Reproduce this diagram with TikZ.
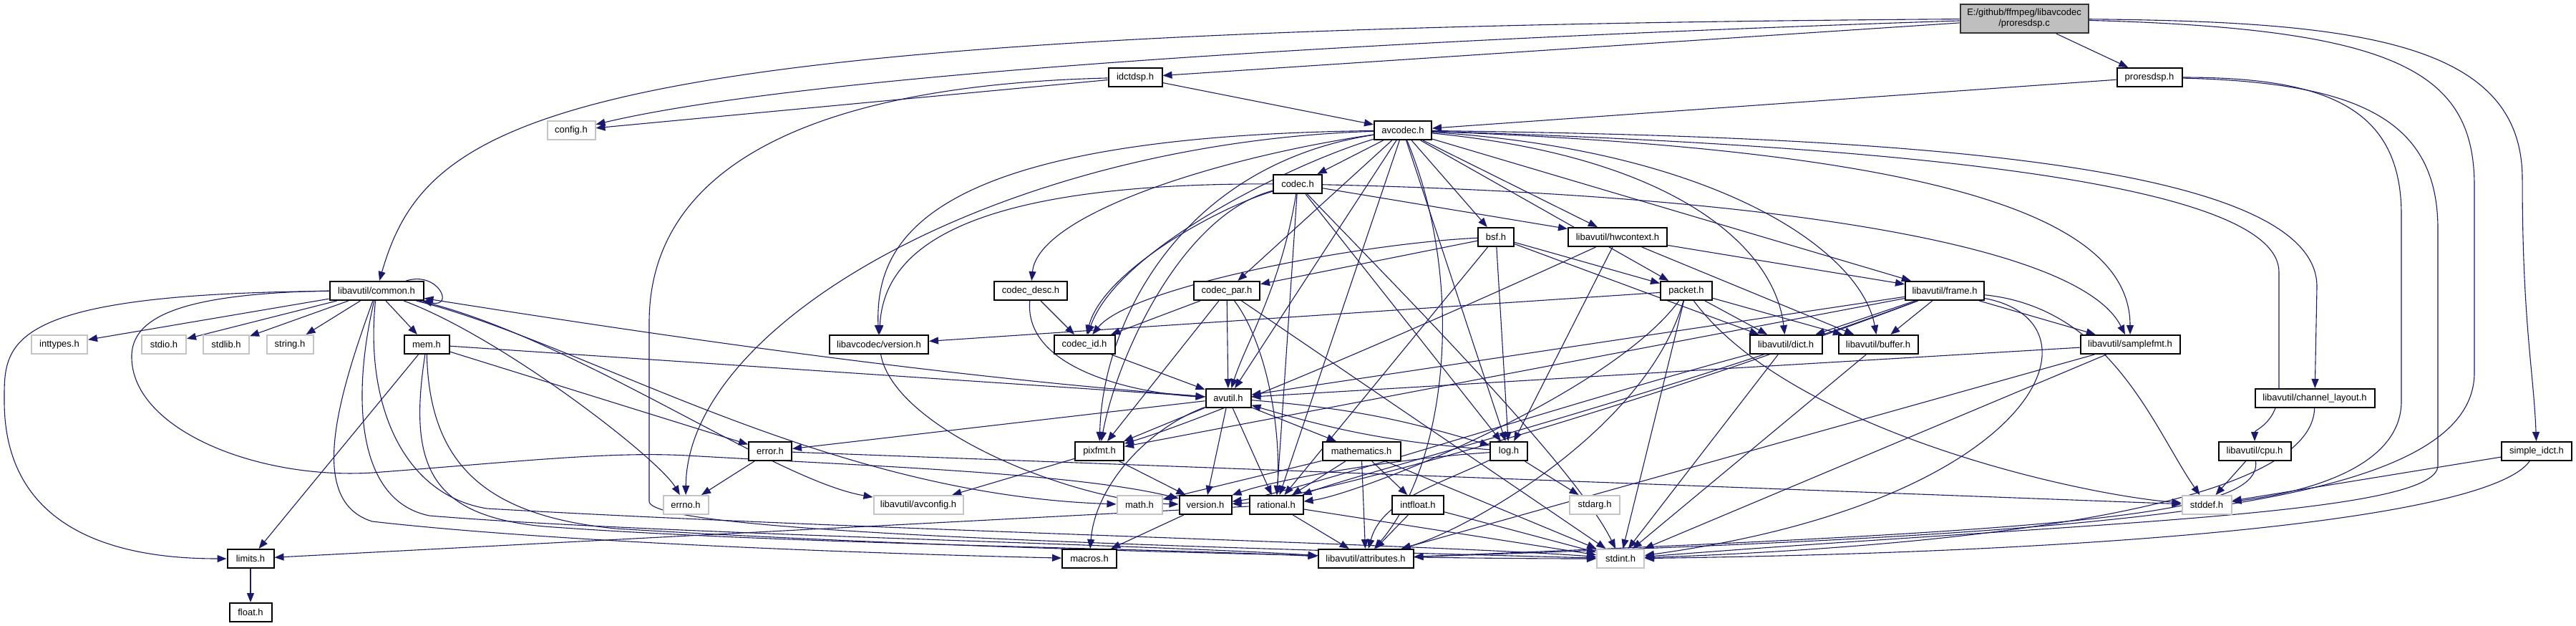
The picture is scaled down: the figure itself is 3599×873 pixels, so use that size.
\documentclass[tikz,border=0pt]{standalone}
\usepackage{fontspec}
\setmainfont{Liberation Sans}
\usetikzlibrary{arrows.meta}
\definecolor{edgec}{HTML}{191970}
\definecolor{sysb}{HTML}{C4C4C4}
\definecolor{mainf}{HTML}{BFBFBF}
\pgfdeclarelayer{edgelayer}
\pgfsetlayers{edgelayer,main}
\begin{document}
\begin{tikzpicture}[x=1pt,y=-1pt,
  nd/.style={draw=black, line width=2pt, fill=white, minimum height=26pt, inner sep=0pt, font=\fontsize{13}{15}\selectfont},
  gnd/.style={nd, draw=sysb},
  e/.style={draw=edgec, line width=1.1pt, -{Triangle[length=13pt,width=10pt]}}]
\useasboundingbox (0,0) rectangle (3599,873);
% nodes
\node[nd, fill=mainf, draw=black!80, minimum width=179pt, minimum height=40pt, align=center] (main) at (2828,26) {E:/github/ffmpeg/libavcodec\\/proresdsp.c};
\node[nd, minimum width=75pt] (idctdsp) at (1586,108) {idctdsp.h};
\node[nd, minimum width=91pt] (proresh) at (3003,108) {proresdsp.h};
\node[gnd, minimum width=67pt] (config) at (798,182) {config.h};
\node[nd, minimum width=80pt] (avcodec) at (1960,182) {avcodec.h};
\node[nd, minimum width=68pt] (codec) at (1813,257) {codec.h};
\node[nd, minimum width=50pt] (bsf) at (2090,331) {bsf.h};
\node[nd, minimum width=138pt] (hwctx) at (2260,331) {libavutil/hwcontext.h};
\node[nd, minimum width=131pt] (common) at (526,406) {libavutil/common.h};
\node[nd, minimum width=102pt] (codecdesc) at (1440,406) {codec\_desc.h};
\node[nd, minimum width=92pt] (codecpar) at (1714,406) {codec\_par.h};
\node[nd, minimum width=72pt] (packet) at (2356,406) {packet.h};
\node[nd, minimum width=110pt] (frame) at (2717,406) {libavutil/frame.h};
\node[gnd, minimum width=78pt] (inttypes) at (83,481) {inttypes.h};
\node[gnd, minimum width=62pt] (stdio) at (229,481) {stdio.h};
\node[gnd, minimum width=64pt] (stdlib) at (316,481) {stdlib.h};
\node[gnd, minimum width=65pt] (string) at (405,481) {string.h};
\node[nd, minimum width=63pt] (mem) at (596,481) {mem.h};
\node[nd, minimum width=138pt] (lavcver) at (1228,481) {libavcodec/version.h};
\node[nd, minimum width=85pt] (codecid) at (1515,481) {codec\_id.h};
\node[nd, minimum width=101pt] (dict) at (2495,481) {libavutil/dict.h};
\node[nd, minimum width=111pt] (buffer) at (2624,481) {libavutil/buffer.h};
\node[nd, minimum width=139pt] (samplefmt) at (2976,481) {libavutil/samplefmt.h};
\node[nd, minimum width=63pt] (avutil) at (1716,556) {avutil.h};
\node[nd, minimum width=167pt] (chlayout) at (3234,556) {libavutil/channel\_layout.h};
\node[nd, minimum width=60pt] (error) at (1076,630) {error.h};
\node[nd, minimum width=68pt] (pixfmt) at (1536,630) {pixfmt.h};
\node[nd, minimum width=109pt] (mathematics) at (1902,630) {mathematics.h};
\node[nd, minimum width=52pt] (log) at (2108,630) {log.h};
\node[nd, minimum width=101pt] (cpu) at (3150,630) {libavutil/cpu.h};
\node[nd, minimum width=98pt] (simple) at (3544,630) {simple\_idct.h};
\node[gnd, minimum width=63pt] (errno) at (958,705) {errno.h};
\node[gnd, minimum width=125pt] (avconfig) at (1283,705) {libavutil/avconfig.h};
\node[gnd, minimum width=63pt] (math) at (1592,705) {math.h};
\node[nd, minimum width=73pt] (version) at (1684,705) {version.h};
\node[nd, minimum width=75pt] (rational) at (1783,705) {rational.h};
\node[nd, minimum width=72pt] (intfloat) at (1981,705) {intfloat.h};
\node[gnd, minimum width=70pt] (stdarg) at (2228,705) {stdarg.h};
\node[gnd, minimum width=69pt] (stddef) at (3083,705) {stddef.h};
\node[nd, minimum width=65pt] (limits) at (350,780) {limits.h};
\node[nd, minimum width=76pt] (macros) at (1522,780) {macros.h};
\node[nd, minimum width=133pt] (attributes) at (1908,780) {libavutil/attributes.h};
\node[gnd, minimum width=66pt] (stdint) at (2264,780) {stdint.h};
\node[nd, minimum width=59pt] (float) at (350,855) {float.h};
\begin{pgfonlayer}{edgelayer}
% main
\draw[e] (main) .. controls (800,40) and (600,150) .. (common);
\draw[e] (main) .. controls (1800,60) and (1100,110) .. (config);
\draw[e] (main) -- (idctdsp);
\draw[e] (main) -- (proresh);
\draw[e] (main) .. controls (3300,30) and (3524,60) .. (3524,250) .. controls (3524,450) and (3540,520) .. (simple);
\draw[e] (main) .. controls (3350,40) and (3457,100) .. (3457,260) -- (3457,520) .. controls (3457,720) and (2900,745) .. (attributes);
% idctdsp
\draw[e] (idctdsp) -- (config);
\draw[e] (idctdsp) -- (avcodec);
\draw[e] (idctdsp) .. controls (1100,120) and (907,250) .. (907,450) -- (907,700) .. controls (907,740) and (1500,760) .. (stdint);
% proresdsp.h
\draw[e] (proresh) -- (avcodec);
\draw[e] (proresh) .. controls (3250,108) and (3355,150) .. (3355,300) -- (3355,560) .. controls (3355,660) and (3200,690) .. (stddef);
\draw[e] (proresh) .. controls (3300,115) and (3406,170) .. (3406,320) -- (3406,650) .. controls (3406,720) and (2900,730) .. (stdint);
% simple_idct, cpu, channel_layout
\draw[e] (simple) -- (stddef);
\draw[e] (simple) .. controls (3480,720) and (3000,770) .. (stdint);
\draw[e] (cpu) -- (stddef);
\draw[e] (cpu) .. controls (3160,720) and (2900,740) .. (attributes);
\draw[e] (chlayout) .. controls (3230,700) and (2800,760) .. (stdint);
% avcodec
\draw[e] (avcodec) -- (codec);
\draw[e] (avcodec) -- (bsf);
\draw[e] (avcodec) -- (hwctx);
\draw[e] (avcodec) -- (packet);
\draw[e] (avcodec) -- (frame);
\draw[e] (avcodec) .. controls (2700,210) and (2976,300) .. (samplefmt);
\draw[e] (avcodec) .. controls (2600,190) and (3237,220) .. (3237,400) -- (chlayout);
\draw[e] (avcodec) .. controls (2700,205) and (3184,260) .. (3184,380) -- (3184,540) .. controls (3184,590) and (3150,600) .. (cpu);
\draw[e] (avcodec) .. controls (2350,220) and (2480,350) .. (dict);
\draw[e] (avcodec) .. controls (2400,210) and (2600,350) .. (buffer);
\draw[e] (avcodec) .. controls (1700,220) and (1450,300) .. (codecdesc);
\draw[e] (avcodec) -- (codecpar);
\draw[e] (avcodec) .. controls (1800,230) and (1560,350) .. (codecid);
\draw[e] (avcodec) .. controls (1300,190) and (1222,330) .. (lavcver);
\draw[e] (avcodec) -- (avutil);
\draw[e] (avcodec) -- (log);
\draw[e] (avcodec) .. controls (1650,230) and (1540,450) .. (pixfmt);
\draw[e] (avcodec) -- (rational);
\draw[e] (avcodec) .. controls (2050,400) and (2020,650) .. (attributes);
\draw[e] (avcodec) .. controls (1400,200) and (960,450) .. (errno);
% codec
\draw[e] (codec) .. controls (1790,400) and (1740,480) .. (avutil);
\draw[e] (codec) -- (hwctx);
\draw[e] (codec) -- (log);
\draw[e] (codec) .. controls (1650,300) and (1560,500) .. (pixfmt);
\draw[e] (codec) -- (rational);
\draw[e] (codec) .. controls (1950,400) and (2200,650) .. (stdint);
\draw[e] (codec) .. controls (2400,270) and (2900,330) .. (samplefmt);
\draw[e] (codec) .. controls (1700,290) and (1540,380) .. (codecid);
\draw[e] (codec) .. controls (1320,255) and (1234,360) .. (lavcver);
% codec_desc, codec_id, codec_par
\draw[e] (codecdesc) -- (codecid);
\draw[e] (codecdesc) .. controls (1430,520) and (1600,550) .. (avutil);
\draw[e] (codecid) -- (avutil);
\draw[e] (codecpar) -- (codecid);
\draw[e] (codecpar) -- (avutil);
\draw[e] (codecpar) -- (pixfmt);
\draw[e] (codecpar) .. controls (1770,480) and (1790,600) .. (rational);
\draw[e] (codecpar) -- (stdint);
% bsf
\draw[e] (bsf) -- (dict);
\draw[e] (bsf) -- (log);
\draw[e] (bsf) -- (rational);
\draw[e] (bsf) .. controls (1900,340) and (1580,400) .. (codecid);
\draw[e] (bsf) -- (codecpar);
\draw[e] (bsf) -- (packet);
% packet
\draw[e] (packet) .. controls (2500,600) and (2900,690) .. (stddef);
\draw[e] (packet) -- (stdint);
\draw[e] (packet) .. controls (2300,600) and (2050,740) .. (attributes);
\draw[e] (packet) -- (buffer);
\draw[e] (packet) -- (dict);
\draw[e] (packet) .. controls (2250,550) and (1900,690) .. (rational);
\draw[e] (packet) -- (lavcver);
% hwcontext
\draw[e] (hwctx) -- (buffer);
\draw[e] (hwctx) -- (frame);
\draw[e] (hwctx) -- (log);
\draw[e] (hwctx) .. controls (2000,450) and (1700,580) .. (pixfmt);
% frame
\draw[e] (frame) -- (dict);
\draw[e] (frame) -- (buffer);
\draw[e] (frame) -- (samplefmt);
\draw[e] (frame) -- (avutil);
\draw[e] (frame) -- (pixfmt);
\draw[e] (frame) .. controls (2300,560) and (1900,660) .. (rational);
\draw[e] (frame) .. controls (2200,600) and (1800,700) .. (version);
\draw[e] (frame) .. controls (2950,430) and (3010,600) .. (stddef);
\draw[e] (frame) .. controls (2950,450) and (2850,700) .. (stdint);
% dict, buffer, samplefmt
\draw[e] (dict) -- (stdint);
\draw[e] (dict) .. controls (2200,560) and (1800,690) .. (version);
\draw[e] (buffer) -- (stdint);
\draw[e] (samplefmt) -- (avutil);
\draw[e] (samplefmt) -- (attributes);
\draw[e] (samplefmt) -- (stdint);
% avutil
\draw[e] (avutil) .. controls (1300,525) and (900,465) .. (common);
\draw[e] (avutil) -- (error);
\draw[e] (avutil) -- (rational);
\draw[e] (avutil) -- (version);
\draw[e] (avutil) .. controls (1600,600) and (1530,680) .. (macros);
\draw[e] (avutil) -- (mathematics);
\draw[e] (avutil) to[bend left=6] (log);
\draw[e] (log) to[bend left=6] (avutil);
\draw[e] (avutil) -- (pixfmt);
% common
\draw[e] (common) -- (inttypes);
\draw[e] (common) -- (stdio);
\draw[e] (common) -- (stdlib);
\draw[e] (common) -- (string);
\draw[e] (common) -- (mem);
\draw[e] (common) .. controls (0,410) and (6,480) .. (6,560) .. controls (6,760) and (200,780) .. (limits);
\draw[e] (common) .. controls (700,470) and (920,640) .. (errno);
\draw[e] (common) .. controls (800,470) and (1080,670) .. (avconfig);
\draw[e] (common) .. controls (820,480) and (1150,690) .. (math);
\draw[e] (common.west) .. controls (260,410) and (182,440) .. (184,500) .. controls (186,600) and (360,670) .. (520,660) .. controls (720,645) and (850,630) .. (960,636) .. controls (1200,650) and (1500,660) .. (version);
\draw[e] (common) .. controls (470,560) and (430,700) .. (520,728) .. controls (800,760) and (1300,775) .. (macros);
\draw[e] (common) .. controls (490,560) and (500,700) .. (600,720) .. controls (900,745) and (1600,760) .. (attributes);
\draw[e] (common) .. controls (510,560) and (560,690) .. (680,710) .. controls (1200,740) and (2000,760) .. (stdint);
\draw[e] ([xshift=-25pt]common.north east) .. controls +(45,-14) and +(45,10) .. ([xshift=-2pt]common.south east);
% mem
\draw[e] (mem) -- (limits);
\draw[e] (mem) .. controls (570,650) and (600,720) .. (760,735) .. controls (1100,760) and (1600,765) .. (attributes);
\draw[e] (mem) .. controls (600,650) and (680,720) .. (860,738) .. controls (1300,765) and (1900,780) .. (stdint);
\draw[e] (mem) -- (error);
\draw[e] (mem) -- (avutil);
% error, pixfmt, mathematics, log
\draw[e] (error) -- (errno);
\draw[e] (error) -- (stddef);
\draw[e] (pixfmt) -- (avconfig);
\draw[e] (pixfmt) -- (version);
\draw[e] (mathematics) -- (math);
\draw[e] (mathematics) -- (rational);
\draw[e] (mathematics) -- (intfloat);
\draw[e] (mathematics) -- (attributes);
\draw[e] (mathematics) -- (stdint);
\draw[e] (log) -- (stdarg);
\draw[e] (log) .. controls (2000,680) and (1930,700) .. (attributes);
\draw[e] (log) .. controls (1950,640) and (1780,670) .. (version);
% version, rational, intfloat, limits, lavc version
\draw[e] (version) -- (macros);
\draw[e] (rational) -- (stdint);
\draw[e] (rational) -- (attributes);
\draw[e] (rational) -- (limits);
\draw[e] (intfloat) -- (stdint);
\draw[e] (intfloat) -- (attributes);
\draw[e] (limits) -- (float);
\draw[e] (lavcver) .. controls (1250,600) and (1500,700) .. (version);
\end{pgfonlayer}
\end{tikzpicture}
\end{document}
